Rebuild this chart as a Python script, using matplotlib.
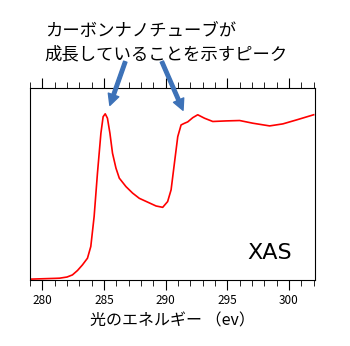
import matplotlib
matplotlib.use('Agg')
import matplotlib.pyplot as plt
from matplotlib.ticker import MultipleLocator

plt.rcParams['font.family'] = ['Noto Sans CJK JP', 'DejaVu Sans']

# XAS spectrum (energy in eV, intensity in arbitrary units)
energy = [279.0, 280.0, 281.0, 281.4, 282.0, 282.44, 282.85, 283.25, 283.66, 283.93,
          284.2, 284.47, 284.75, 284.93, 285.1, 285.28, 285.48, 285.69, 285.97, 286.24,
          286.78, 287.32, 287.86, 288.54, 289.22, 289.76, 290.16, 290.44, 290.71, 290.98,
          291.25, 291.5, 291.79, 292.2, 292.6, 293.15, 293.82, 294.9, 296.0, 297.07,
          298.43, 299.5, 300.6, 302.0]
intensity = [0.004, 0.006, 0.008, 0.009, 0.015, 0.026, 0.049, 0.078, 0.113, 0.174,
             0.33, 0.556, 0.764, 0.85, 0.865, 0.842, 0.764, 0.66, 0.582, 0.53,
             0.486, 0.452, 0.425, 0.405, 0.385, 0.378, 0.408, 0.469, 0.608, 0.746,
             0.807, 0.815, 0.823, 0.845, 0.86, 0.842, 0.825, 0.828, 0.83, 0.816,
             0.802, 0.8125, 0.833, 0.86]

title = 'カーボンナノチューブが\n成長していることを示すピーク'
xlabel = '光のエネルギー （ev）'

fig = plt.figure(figsize=(3.5, 3.46), dpi=100)
ax = fig.add_axes([0.0857, 0.191, 0.814, 0.555])
ax.plot(energy, intensity, color='red', lw=1.2)
ax.set_xlim(279.0, 302.1)
ax.set_ylim(0, 1)

ax.xaxis.set_major_locator(MultipleLocator(5))
ax.xaxis.set_minor_locator(MultipleLocator(1))
ax.tick_params(axis='x', which='both', top=True, direction='out', labelsize=8.5, pad=3)
ax.tick_params(axis='x', which='major', length=7)
ax.tick_params(axis='x', which='minor', length=4)
ax.set_yticks([])
ax.set_xlabel(xlabel, fontsize=11.5, labelpad=4)

ax.text(0.84, 0.14, 'XAS', transform=ax.transAxes, fontsize=16,
        ha='center', va='center', family='DejaVu Sans')

fig.text(0.128, 0.935, title, fontsize=12.5, ha='left', va='top', linespacing=1.35)

# arrows pointing at the two peaks
arrow_style = dict(arrowstyle='simple,head_width=0.8,head_length=0.8,tail_width=0.25',
                   color='#3d72b8')
ax.annotate('', xy=(285.4, 0.895), xytext=(286.8, 1.15), arrowprops=arrow_style,
            annotation_clip=False)
ax.annotate('', xy=(291.5, 0.87), xytext=(289.6, 1.15), arrowprops=arrow_style,
            annotation_clip=False)

fig.savefig('out.png', dpi=100)
